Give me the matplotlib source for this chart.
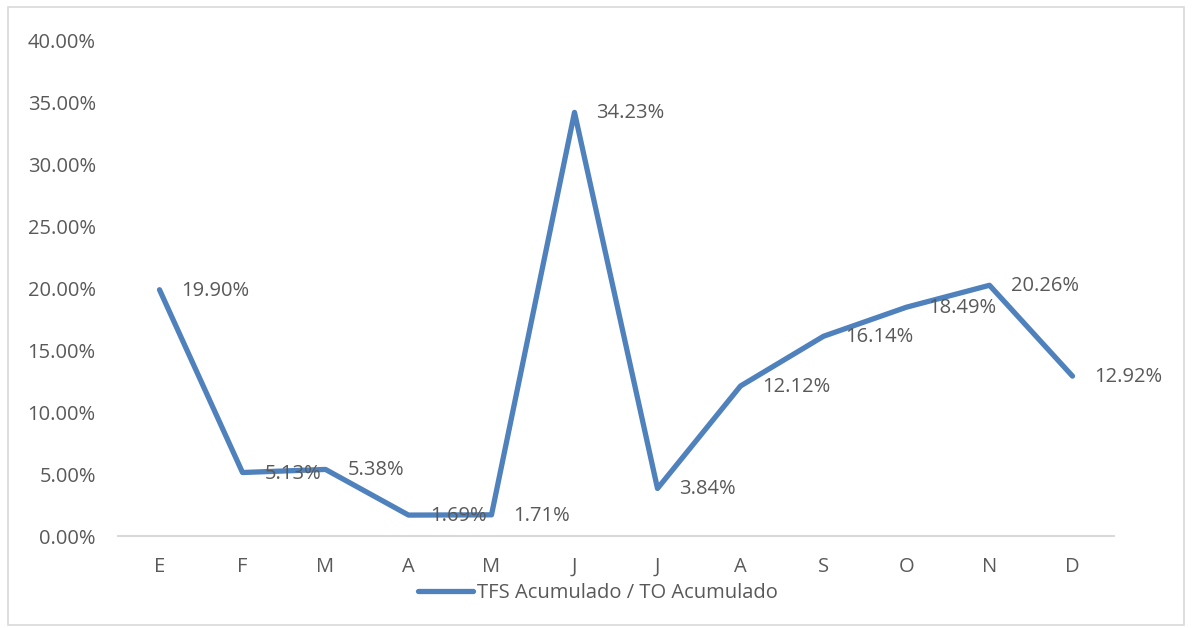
import matplotlib
matplotlib.use("Agg")
import matplotlib.pyplot as plt
from matplotlib.patches import Rectangle
from matplotlib.ticker import FuncFormatter, MultipleLocator

months = ["E", "F", "M", "A", "M", "J", "J", "A", "S", "O", "N", "D"]
ratio_pct = [19.90, 5.13, 5.38, 1.69, 1.71, 34.23, 3.84, 12.12, 16.14, 18.49, 20.26, 12.92]
series_name = "TFS Acumulado / TO Acumulado"

line_color = "#4F81BD"
text_color = "#595959"
fs = 14.5
plt.rcParams["font.family"] = ["Open Sans", "DejaVu Sans"]

W, H = 1193, 628
fig = plt.figure(figsize=(W / 100, H / 100), dpi=100)
ax = fig.add_axes([118 / W, (H - 536) / H, (1114 - 118) / W, (536 - 41) / H])

x = list(range(len(months)))
line, = ax.plot(x, ratio_pct, color=line_color, lw=3.8, solid_joinstyle="round",
                solid_capstyle="round", label=series_name)

for xi, v in zip(x, ratio_pct):
    ax.annotate(f"{v:.2f}%", (xi, v), xytext=(22, -1), textcoords="offset pixels",
                ha="left", va="center", fontsize=fs, color=text_color)

ax.set_xlim(-0.5, len(months) - 0.5)
ax.set_ylim(0, 40)
ax.yaxis.set_major_locator(MultipleLocator(5))
ax.yaxis.set_major_formatter(FuncFormatter(lambda v, _: f"{v:.2f}%"))
ax.set_xticks(x)
ax.set_xticklabels(months)
ax.tick_params(axis="both", length=0, labelsize=fs, labelcolor=text_color)
ax.tick_params(axis="y", pad=16)
ax.tick_params(axis="x", pad=15)

for side in ("left", "right", "top"):
    ax.spines[side].set_visible(False)
ax.spines["bottom"].set_color("#D9D9D9")
ax.spines["bottom"].set_linewidth(1.5)

leg = fig.legend(handles=[line], loc="center", bbox_to_anchor=(598 / W, (H - 593) / H),
                 frameon=False, fontsize=fs, handlelength=2.7, handletextpad=0.2)
for t in leg.get_texts():
    t.set_color(text_color)

fig.patches.append(Rectangle((8 / W, 3 / H), (1184 - 8) / W, (621 - 3) / H,
                             transform=fig.transFigure, fill=False,
                             edgecolor="#D9D9D9", lw=1.2))

fig.savefig("out.png", dpi=100, facecolor="white")
